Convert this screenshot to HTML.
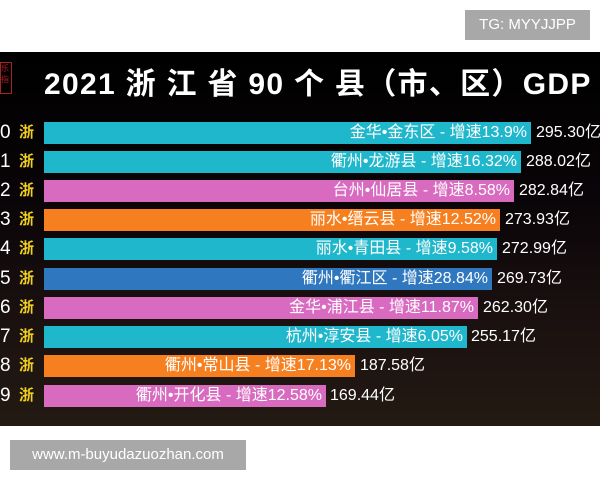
<!DOCTYPE html>
<html><head><meta charset="utf-8"><style>
body{margin:0;width:600px;height:480px;background:#fff;position:relative;overflow:hidden;font-family:"Liberation Sans","Noto Sans CJK SC",sans-serif}
.dark{position:absolute;left:0;top:52px;width:600px;height:374px;background:linear-gradient(180deg,#000 0%,#0a0508 40%,#1a1010 70%,#231a12 100%)}
.title{position:absolute;left:44px;top:59px;color:#fff;font-weight:bold;font-size:30px;white-space:nowrap;letter-spacing:1.3px}
.seal{position:absolute;left:0;top:62px;width:10px;height:30px;border:1px solid #a22;color:#a22;font-size:8px}
.bar{position:absolute;left:44px;height:22px;color:#fff;font-size:16px;line-height:22px;text-align:right;box-sizing:border-box;padding-right:4px;white-space:nowrap;overflow:hidden}
.val{position:absolute;color:#fff;font-size:16px;line-height:22px;white-space:nowrap}
.n{position:absolute;left:0;color:#fff;font-size:19px;line-height:22px}
.z{position:absolute;left:19px;color:#f0d020;font-size:15px;line-height:22px;font-weight:bold}
.box{position:absolute;background:#a8a8a8;color:#fff;font-size:15px;text-align:center}
.c{background:#1fb7cb}.p{background:#d86ac0}.o{background:#f68020}.b{background:#2f78c0}
</style></head><body>
<div class="box" style="left:465px;top:10px;width:125px;height:30px;line-height:30px">TG: MYYJJPP</div>
<div class="dark"></div>
<div class="seal">乐<br>指</div>
<div class="title">2021 浙 江 省 90 个 县（市、区）GDP</div>

<div class="n" style="top:122px">0</div><div class="z" style="top:122px">浙</div>
<div class="bar c" style="top:122px;width:487px">金华•金东区 - 增速13.9%</div><div class="val" style="top:122px;left:536px">295.30亿</div>
<div class="n" style="top:151px">1</div><div class="z" style="top:151px">浙</div>
<div class="bar c" style="top:151px;width:477px">衢州•龙游县 - 增速16.32%</div><div class="val" style="top:151px;left:526px">288.02亿</div>
<div class="n" style="top:180px">2</div><div class="z" style="top:180px">浙</div>
<div class="bar p" style="top:180px;width:470px">台州•仙居县 - 增速8.58%</div><div class="val" style="top:180px;left:519px">282.84亿</div>
<div class="n" style="top:209px">3</div><div class="z" style="top:209px">浙</div>
<div class="bar o" style="top:209px;width:456px">丽水•缙云县 - 增速12.52%</div><div class="val" style="top:209px;left:505px">273.93亿</div>
<div class="n" style="top:238px">4</div><div class="z" style="top:238px">浙</div>
<div class="bar c" style="top:238px;width:453px">丽水•青田县 - 增速9.58%</div><div class="val" style="top:238px;left:502px">272.99亿</div>
<div class="n" style="top:268px">5</div><div class="z" style="top:268px">浙</div>
<div class="bar b" style="top:268px;width:448px">衢州•衢江区 - 增速28.84%</div><div class="val" style="top:268px;left:497px">269.73亿</div>
<div class="n" style="top:297px">6</div><div class="z" style="top:297px">浙</div>
<div class="bar p" style="top:297px;width:434px">金华•浦江县 - 增速11.87%</div><div class="val" style="top:297px;left:483px">262.30亿</div>
<div class="n" style="top:326px">7</div><div class="z" style="top:326px">浙</div>
<div class="bar c" style="top:326px;width:423px">杭州•淳安县 - 增速6.05%</div><div class="val" style="top:326px;left:471px">255.17亿</div>
<div class="n" style="top:355px">8</div><div class="z" style="top:355px">浙</div>
<div class="bar o" style="top:355px;width:311px">衢州•常山县 - 增速17.13%</div><div class="val" style="top:355px;left:360px">187.58亿</div>
<div class="n" style="top:385px">9</div><div class="z" style="top:385px">浙</div>
<div class="bar p" style="top:385px;width:282px">衢州•开化县 - 增速12.58%</div><div class="val" style="top:385px;left:330px">169.44亿</div>

<div class="box" style="left:10px;top:440px;width:236px;height:30px;line-height:30px">www.m-buyudazuozhan.com</div>
</body></html>
